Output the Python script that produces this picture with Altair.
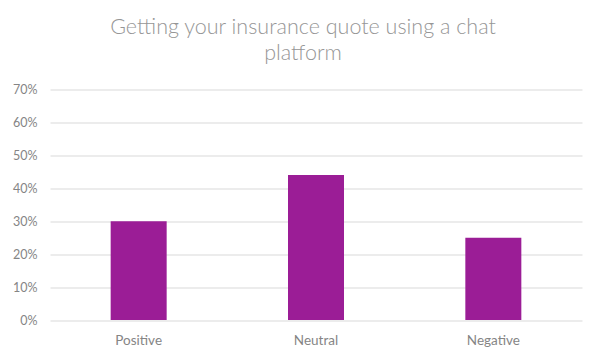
import altair as alt
import pandas as pd

categories = ["Positive", "Neutral", "Negative"]
values = [0.30, 0.44, 0.25]

df = pd.DataFrame({"category": categories, "value": values})

chart = alt.Chart(df).mark_bar(size=56, color="#9B1D96").encode(
    x=alt.X("category:N", sort=categories, title=None,
            scale=alt.Scale(paddingInner=0, paddingOuter=0),
            axis=alt.Axis(labelAngle=0, ticks=False, domain=False, labelPadding=13,
                          labelColor="#858585", labelFontSize=13.5, labelFont="Lato")),
    y=alt.Y("value:Q", title=None,
            scale=alt.Scale(domain=[0, 0.7], nice=False),
            axis=alt.Axis(format=".0%", values=[0, 0.1, 0.2, 0.3, 0.4, 0.5, 0.6, 0.7],
                          ticks=False, domain=False, labelPadding=13,
                          gridColor="#d9d9d9", gridWidth=1,
                          labelColor="#858585", labelFontSize=12.5, labelFont="Lato")),
).properties(
    width=532,
    height=230.5,
    title=alt.TitleParams(
        text=["Getting your insurance quote using a chat", "platform"],
        fontSize=21.5, font="Lato", fontWeight=300, color="#969696",
        lineHeight=26, offset=19, dx=-13, anchor="middle",
    ),
    autosize=alt.AutoSizeParams(type="none"),
    padding={"left": 42, "top": 81.5, "right": 10, "bottom": 30},
).configure_view(stroke=None)

chart.save("out.html", embed_options={"renderer": "svg", "actions": False})
